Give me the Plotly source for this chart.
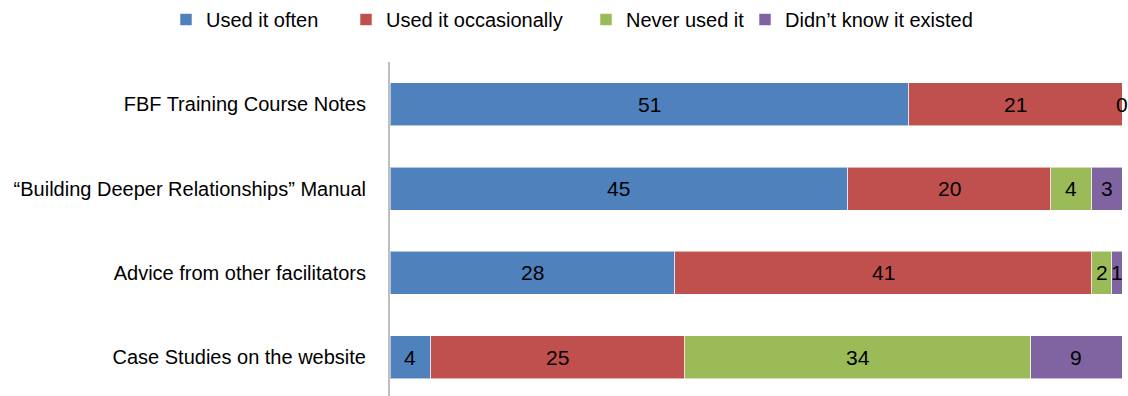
import plotly.graph_objects as go

# Survey: how often facilitators used each resource
categories = [
    "FBF Training Course Notes",
    "\u201cBuilding Deeper Relationships\u201d Manual",
    "Advice from other facilitators",
    "Case Studies on the website",
]
series_names = ["Used it often", "Used it occasionally", "Never used it", "Didn\u2019t know it existed"]
used_often = [51, 45, 28, 4]
used_occasionally = [21, 20, 41, 25]
never_used = [0, 4, 2, 34]
didnt_know = [0, 3, 1, 9]
# which segments carry a value label (the zero "didn't know" segment on the first row is unlabeled)
show_label = [
    [True, True, True, True],
    [True, True, True, True],
    [True, True, True, True],
    [False, True, True, True],
]

colors = ["#4F81BD", "#C0504D", "#9BBB59", "#8064A2"]
FONT = "Liberation Sans Narrow, Arial Narrow, Liberation Sans, Arial, sans-serif"
W, H = 1128, 396

series = [used_often, used_occasionally, never_used, didnt_know]
# one single-entry legend per series so each key sits at its own spot
legend_ids = ["legend", "legend2", "legend3", "legend4"]
legend_left_px = [166, 346, 586, 745]

fig = go.Figure()
for name, vals, col, lid in zip(series_names, series, colors, legend_ids):
    fig.add_trace(go.Bar(
        y=categories, x=vals, name=name, orientation="h", legend=lid,
        marker=dict(color=col, line=dict(color="rgba(255,255,255,0.55)", width=1)),
        hoverinfo="x+name",
    ))

# value labels centred on each segment
annotations = []
for ci, cat in enumerate(categories):
    left = 0
    for si, vals in enumerate(series):
        v = vals[ci]
        if show_label[si][ci]:
            annotations.append(dict(
                x=left + v / 2, y=cat, xref="x", yref="y", text=str(v),
                showarrow=False, font=dict(family=FONT, size=21, color="#000000"),
            ))
        left += v

legend_layout = {}
for lid, lx in zip(legend_ids, legend_left_px):
    legend_layout[lid] = dict(
        orientation="h", xref="container", yref="container",
        x=lx / W, xanchor="left", y=1.0, yanchor="top",
        font=dict(family=FONT, size=20, color="#000000"),
        bgcolor="rgba(0,0,0,0)", itemwidth=30,
    )

fig.update_layout(
    barmode="stack",
    bargap=0.49,
    width=W, height=H,
    margin=dict(l=390, r=6, t=62, b=0),
    paper_bgcolor="white", plot_bgcolor="white",
    font=dict(family=FONT, size=20, color="#000000"),
    annotations=annotations,
    showlegend=True,
    xaxis=dict(range=[0, 72], visible=False, showgrid=False, zeroline=False),
    yaxis=dict(
        range=[3.46, -0.5], showgrid=False, zeroline=False,
        showline=True, linecolor="#BFBFBF", linewidth=2,
        ticks="", ticklabelstandoff=18,
        tickfont=dict(family=FONT, size=20, color="#000000"),
    ),
    **legend_layout,
)

fig.write_html("out.html")
